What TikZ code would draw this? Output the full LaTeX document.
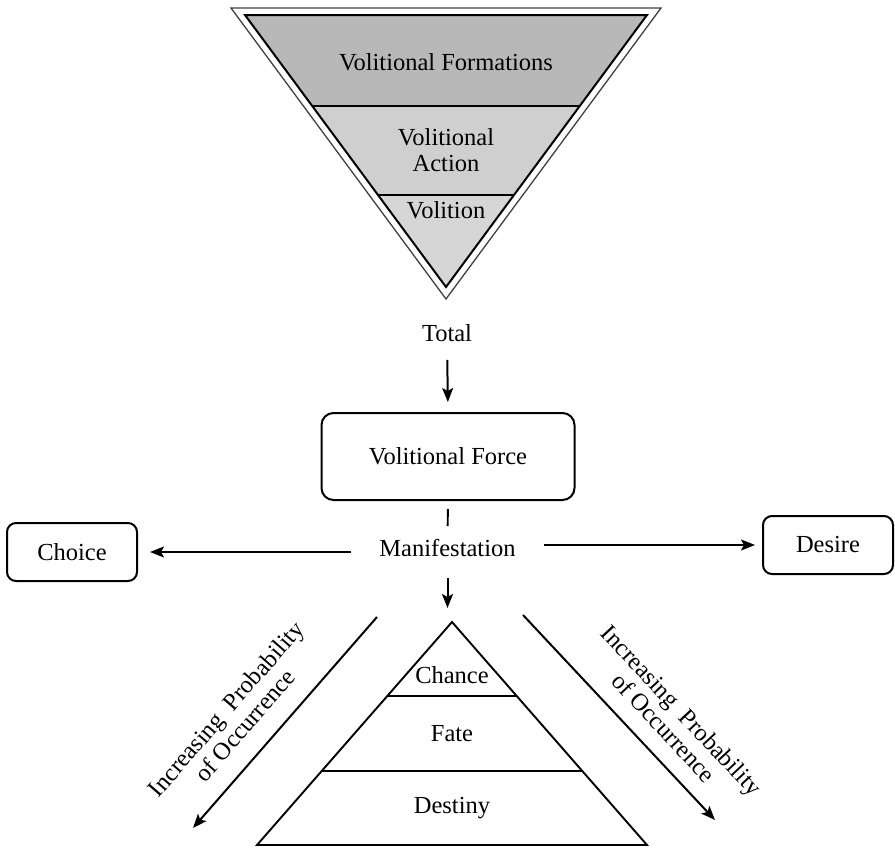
\documentclass[tikz,border=0pt]{standalone}
\usepackage{fontspec}
\setmainfont{Liberation Serif}
\usetikzlibrary{arrows.meta}
\definecolor{bandA}{gray}{0.72}
\definecolor{bandB}{gray}{0.81}
\definecolor{bandC}{gray}{0.84}
\begin{document}
\begin{tikzpicture}[x=1pt,y=-1pt,
  lbl/.style={font=\fontsize{24.5}{26}\selectfont, inner sep=0pt, align=center},
  rbox/.style={draw, line width=2pt, rounded corners=9pt, inner sep=0pt,
    minimum width=130pt, minimum height=58pt, font=\fontsize{24.5}{26}\selectfont},
  arr/.style={line width=2pt, -{Stealth[length=14pt,width=11pt,inset=3pt]}},
  edgeline/.style={line width=1.9pt},
  sidelbl/.style={font=\fontsize{24.5}{25}\selectfont, inner sep=0pt, align=center}]
\useasboundingbox (0,0) rectangle (895,847);

% inverted triangle with shaded bands
\begin{scope}
  \clip (245,15) -- (647,15) -- (446,287) -- cycle;
  \fill[bandA] (200,10) rectangle (700,106);
  \fill[bandB] (200,106) rectangle (700,195);
  \fill[bandC] (200,195) rectangle (700,295);
  \draw[edgeline] (200,106) -- (700,106);
  \draw[edgeline] (200,195) -- (700,195);
\end{scope}
\draw[line width=1.3pt, black!75] (231,8) -- (661,8) -- (446,299) -- cycle;
\draw[line width=2pt] (245,15) -- (647,15) -- (446,287) -- cycle;

\node[lbl] (formations) at (446,62) {Volitional Formations};
\node[lbl] (action) at (446,150) {Volitional\\Action};
\node[lbl] (volition) at (446,210) {Volition};

% chain of the volitional force
\node[lbl] (total) at (447,333) {Total};
\node[rbox, minimum width=253pt, minimum height=87pt, rounded corners=12pt] (force) at (448,456.5) {Volitional Force};
\node[lbl, inner xsep=28pt] (manif) at (447.5,548) {Manifestation};
\node[rbox] (choice) at (72,552) {Choice};
\node[rbox] (desire) at (828,545) {Desire};

\draw[arr, shorten <=18pt, shorten >=10pt] (total.south) -- (force.north);
\draw[edgeline, shorten <=8pt, shorten >=13pt] (force.south) -- (manif.north);
\draw[arr, shorten >=12pt] (manif.west |- choice.east) -- (choice.east);
\draw[arr, shorten >=7pt] (manif.east |- desire.west) -- (desire.west);

% upright triangle
\coordinate (apex) at (452,622);
\coordinate (baseL) at (257,845);
\coordinate (baseR) at (647,845);
\begin{scope}
  \clip (apex) -- (baseL) -- (baseR) -- cycle;
  \draw[edgeline] (200,696) -- (700,696);
  \draw[edgeline] (200,771) -- (700,771);
\end{scope}
\draw[edgeline, line join=miter] (apex) -- (baseL) -- (baseR) -- cycle;

\node[lbl] (chance) at (452,675) {Chance};
\node[lbl] (fate) at (452,734) {Fate};
\node[lbl] (destiny) at (452,808) {Destiny};

\draw[arr, shorten <=21pt, shorten >=14pt] (manif.south) -- (manif.south |- apex);

% probability arrows along the sides
\coordinate (lt) at (377,617);
\coordinate (lb) at (193,828);
\coordinate (rt) at (523,615);
\coordinate (rb) at (715,820);
\draw[arr] (lt) -- (lb);
\draw[arr] (rt) -- (rb);
\node[sidelbl, rotate=49] (probL) at (235,717) {Increasing~ Probability\\of Occurrence};
\node[sidelbl, rotate=-47] (probR) at (673,719) {Increasing~ Probability\\of Occurrence};
\end{tikzpicture}
\end{document}
